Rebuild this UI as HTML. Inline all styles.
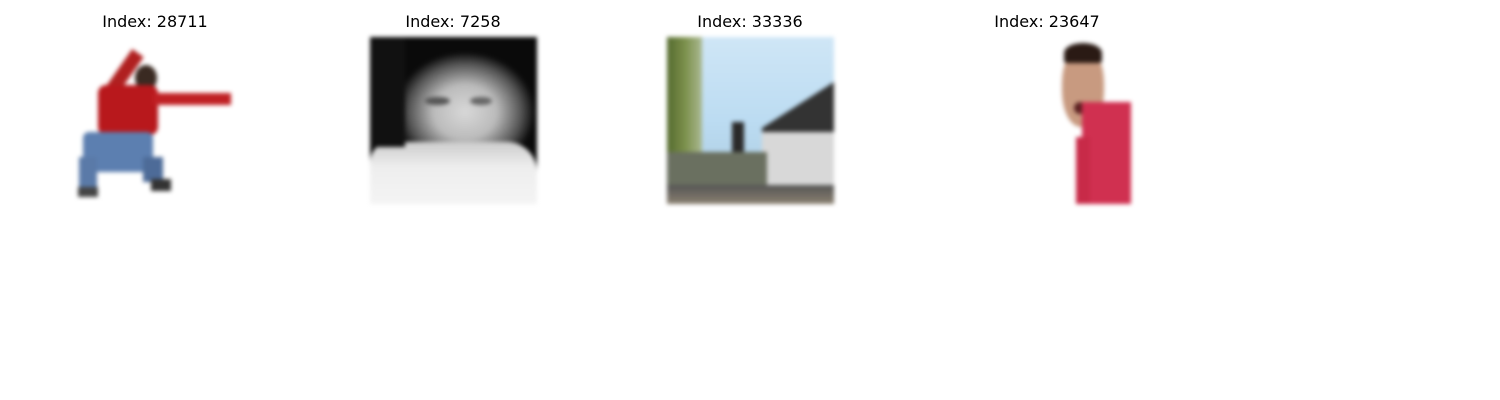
<!DOCTYPE html>
<html><head><meta charset="utf-8"><style>
html,body{margin:0;padding:0;background:#fff;width:1500px;height:400px;overflow:hidden;position:relative;font-family:"Liberation Sans","DejaVu Sans",sans-serif}
.t{position:absolute;top:12px;font-size:16px;color:#000;width:200px;text-align:center;font-family:"DejaVu Sans","Liberation Sans",sans-serif}
.img{position:absolute;top:37px;width:167px;height:167px;overflow:hidden;filter:blur(2px)}
.s{position:absolute}
</style></head><body>
<div class="t" style="left:55px">Index: 28711</div>
<div class="t" style="left:353px">Index: 7258</div>
<div class="t" style="left:650px">Index: 33336</div>
<div class="t" style="left:947px">Index: 23647</div>

<div class="img" style="left:73px;background:#fff">
 <div class="s" style="left:45px;top:12px;width:14px;height:45px;background:#b02020;transform:rotate(35deg)"></div>
 <div class="s" style="left:62px;top:28px;width:22px;height:26px;border-radius:50%;background:#3a2a22"></div>
 <div class="s" style="left:25px;top:48px;width:60px;height:50px;background:#b8181c;border-radius:8px"></div>
 <div class="s" style="left:80px;top:56px;width:78px;height:12px;background:#c02024"></div>
 <div class="s" style="left:10px;top:95px;width:70px;height:40px;background:#5c7fb0;border-radius:6px"></div>
 <div class="s" style="left:6px;top:120px;width:18px;height:35px;background:#5a7aa8"></div>
 <div class="s" style="left:70px;top:120px;width:20px;height:25px;background:#4d6b98"></div>
 <div class="s" style="left:5px;top:150px;width:20px;height:10px;background:#444"></div>
 <div class="s" style="left:78px;top:142px;width:20px;height:12px;background:#333"></div>
</div>

<div class="img" style="left:370px;background:radial-gradient(ellipse 70px 60px at 95px 75px,#d8d8d8 0%,#bbb 45%,#555 80%,#0a0a0a 100%)">
 <div class="s" style="left:0;top:105px;width:167px;height:62px;background:linear-gradient(#ccc,#eee 40%,#f4f4f4);border-radius:20px 30px 0 0"></div>
 <div class="s" style="left:55px;top:60px;width:25px;height:8px;background:#555;border-radius:50%"></div>
 <div class="s" style="left:100px;top:60px;width:22px;height:8px;background:#666;border-radius:50%"></div>
 <div class="s" style="left:0;top:0;width:35px;height:110px;background:#111"></div>
</div>

<div class="img" style="left:667px;background:linear-gradient(#cfe6f6,#bcdcf2 50%,#a8c8dc)">
 <div class="s" style="left:0;top:0;width:35px;height:125px;background:linear-gradient(90deg,#556b2f,#7a8f4a,#aab890)"></div>
 <div class="s" style="left:95px;top:45px;width:72px;height:115px;background:#333;clip-path:polygon(0 40%,100% 0,100% 100%,0 100%)"></div>
 <div class="s" style="left:95px;top:95px;width:72px;height:55px;background:#d8d8d8"></div>
 <div class="s" style="left:65px;top:85px;width:12px;height:60px;background:#2a2a2a"></div>
 <div class="s" style="left:0;top:115px;width:100px;height:35px;background:#6a7060"></div>
 <div class="s" style="left:0;top:148px;width:167px;height:19px;background:linear-gradient(#555,#8a8070)"></div>
</div>

<div class="img" style="left:964px;background:#fff">
 <div class="s" style="left:98px;top:10px;width:42px;height:80px;background:#c89a80;border-radius:45%"></div>
 <div class="s" style="left:100px;top:6px;width:38px;height:20px;background:#2a1a14;border-radius:50% 50% 10% 10%"></div>
 <div class="s" style="left:110px;top:65px;width:12px;height:12px;background:#5a2020;border-radius:50%"></div>
 <div class="s" style="left:118px;top:65px;width:49px;height:102px;background:#d03050"></div>
 <div class="s" style="left:112px;top:100px;width:14px;height:67px;background:#c82a48"></div>
</div>
</body></html>
